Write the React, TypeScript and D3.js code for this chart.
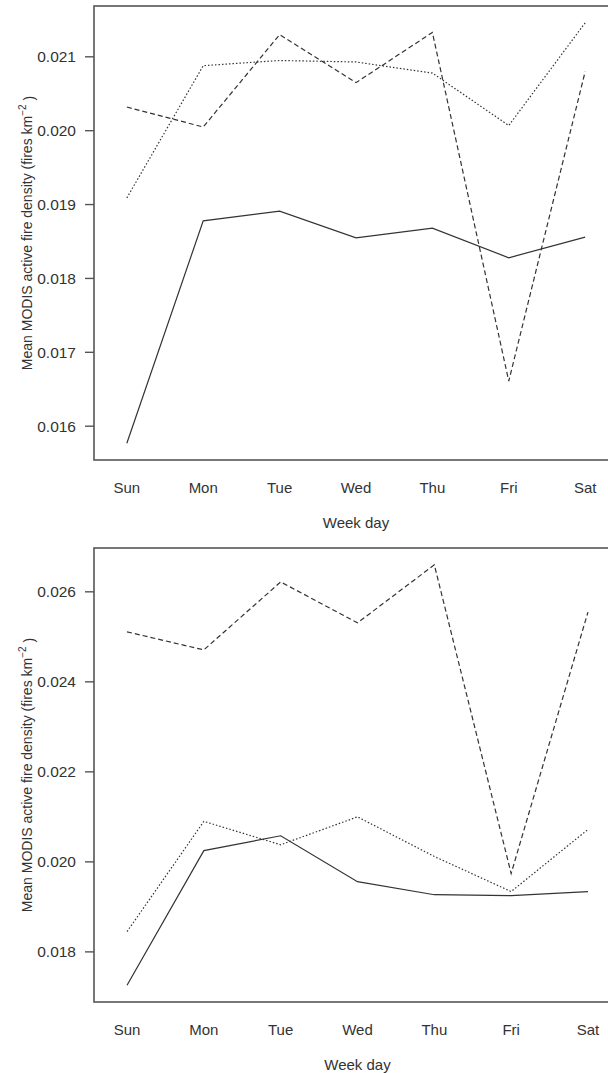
import * as d3 from 'd3';
import React from 'react';

const days = ['Sun', 'Mon', 'Tue', 'Wed', 'Thu', 'Fri', 'Sat'];

// top panel
const topSolid = [0.01577, 0.01878, 0.01891, 0.01855, 0.01868, 0.01828, 0.01856];
const topDashed = [0.02032, 0.02005, 0.0213, 0.02065, 0.02133, 0.01661, 0.0208];
const topDotted = [0.01909, 0.02088, 0.02095, 0.02093, 0.02078, 0.02007, 0.02146];
const topTicks = [0.016, 0.017, 0.018, 0.019, 0.02, 0.021];

// bottom panel
const botSolid = [0.01726, 0.02025, 0.02058, 0.01956, 0.01927, 0.01925, 0.01934];
const botDashed = [0.02511, 0.02471, 0.02622, 0.02531, 0.0266, 0.01974, 0.02555];
const botDotted = [0.01845, 0.0209, 0.02038, 0.021, 0.02012, 0.01934, 0.02072];
const botTicks = [0.018, 0.02, 0.022, 0.024, 0.026];

const ink = '#333';
const font = '"Liberation Sans", Arial, sans-serif';

const Panel = ({ top, bottom, right, solid, dashed, dotted, ticks }) => {
    const left = 94;

    const all = [...solid, ...dashed, ...dotted];
    const [lo, hi] = d3.extent(all);
    const pad = (hi - lo) * 0.04;

    const x = d3.scaleLinear().domain([0.57, 7.43]).range([left, right]);
    const y = d3.scaleLinear().domain([lo - pad, hi + pad]).range([bottom, top]);

    const line = d3.line().x((d, i) => x(i + 1)).y((d) => y(d));

    const series = [
        { vals: solid, dash: null },
        { vals: dashed, dash: '5,3' },
        { vals: dotted, dash: '1.5,2' },
    ];

    const midY = (top + bottom) / 2;

    return (
        <g>
            <rect x={left} y={top} width={right - left} height={bottom - top}
                fill='none' stroke='#555' strokeWidth={1.6} />
            {series.map((s, k) => (
                <path key={k} d={line(s.vals)} fill='none' stroke={ink}
                    strokeWidth={1.2} strokeDasharray={s.dash || undefined} />
            ))}
            {ticks.map((t) => (
                <g key={t}>
                    <line x1={left - 9} x2={left} y1={y(t)} y2={y(t)} stroke='#555' strokeWidth={1.4} />
                    <text x={left - 18} y={y(t)} dy='0.36em' textAnchor='end'
                        fontSize={15.5} fill={ink} fontFamily={font}>{d3.format('.3f')(t)}</text>
                </g>
            ))}
            {days.map((d, i) => (
                <text key={d} x={x(i + 1)} y={bottom + 28} dy='0.36em' textAnchor='middle'
                    fontSize={15} fill={ink} fontFamily={font}>{d}</text>
            ))}
            <text x={x(4)} y={bottom + 63} dy='0.36em' textAnchor='middle'
                fontSize={15} fill={ink} fontFamily={font}>Week day</text>
            <text transform={`translate(27, ${midY}) rotate(-90)`} textAnchor='middle' dy='0.36em'
                fontSize={14} fill={ink} fontFamily={font}>
                Mean MODIS active fire density (fires km
                <tspan dy='-0.6em' fontSize={10}>−2</tspan>
                <tspan dy='0.6em'> )</tspan>
            </text>
        </g>
    );
};

const App = () => {
    return (
        <div style={{ position: 'absolute', left: 0, top: 0 }}>
            <svg width={608} height={1073} style={{ display: 'block', background: '#fff' }}>
                <Panel top={6} bottom={460} right={618} solid={topSolid} dashed={topDashed}
                    dotted={topDotted} ticks={topTicks} />
                <Panel top={548} bottom={1002} right={621} solid={botSolid} dashed={botDashed}
                    dotted={botDotted} ticks={botTicks} />
            </svg>
        </div>
    );
};

export default App;
